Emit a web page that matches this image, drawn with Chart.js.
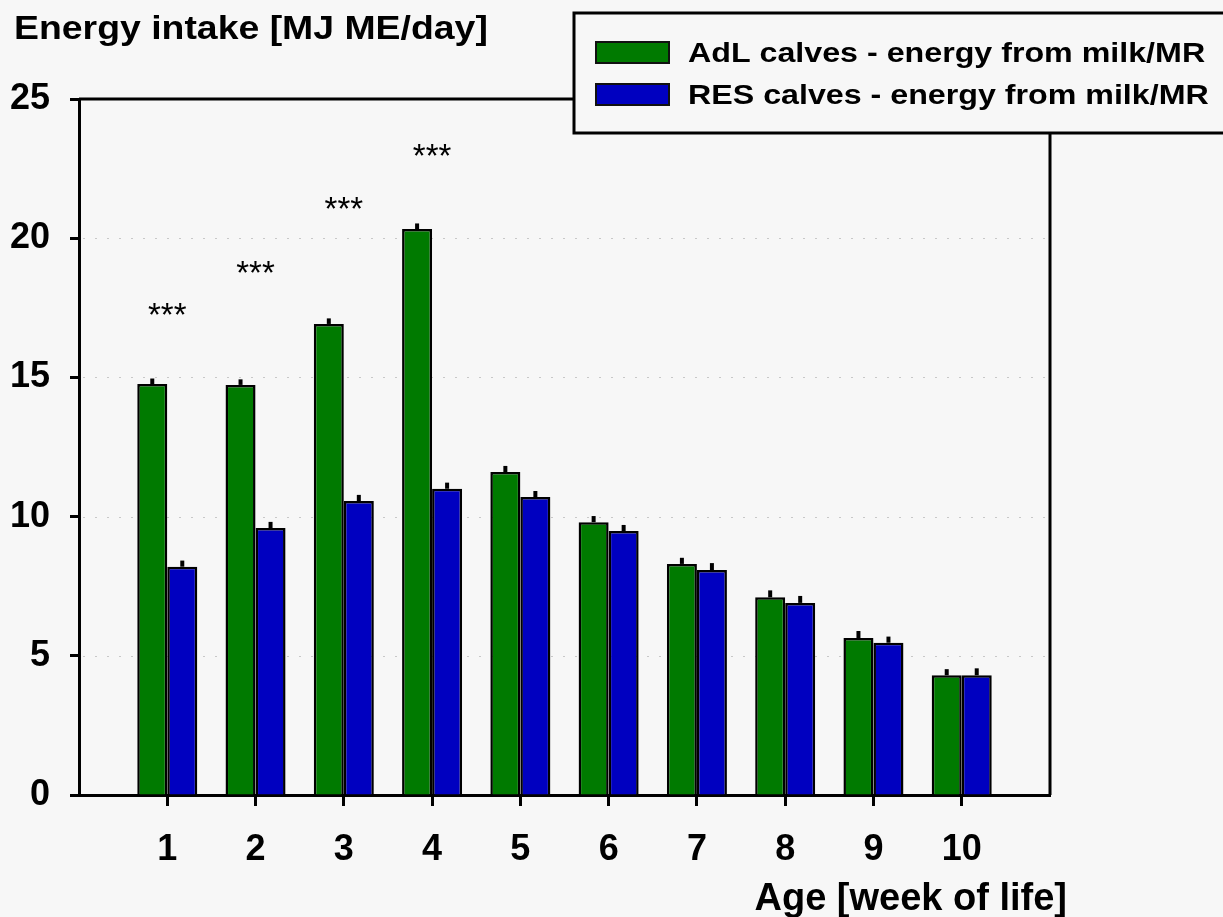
<!DOCTYPE html>
<html>
<head>
<meta charset="utf-8">
<title>Energy intake</title>
<script src="https://cdn.jsdelivr.net/npm/chart.js@4/dist/chart.umd.min.js"></script>
<style>
    html, body { margin: 0; padding: 0; background: #f7f7f7; }
    #wrap { width: 1223px; height: 917px; }
</style>
</head>
<body>
<div id="wrap"><canvas id="energyChart" width="1223" height="917"></canvas></div>
<script>
// Données
const weeks = [1, 2, 3, 4, 5, 6, 7, 8, 9, 10];
const adlValues = [14.76, 14.73, 16.92, 20.33, 11.6, 9.8, 8.3, 7.1, 5.64, 4.3];
const resValues = [8.2, 9.59, 10.56, 11.0, 10.7, 9.48, 8.08, 6.9, 5.47, 4.3];
const adlErrors = [0.2, 0.2, 0.2, 0.2, 0.22, 0.22, 0.22, 0.25, 0.25, 0.22];
const resErrors = [0.22, 0.22, 0.22, 0.22, 0.22, 0.22, 0.25, 0.25, 0.22, 0.25];
const yTicks = [0, 5, 10, 15, 20, 25];
const starWeeks = [1, 2, 3, 4];
const starValues = [17.4, 18.9, 21.2, 23.1];
const seriesLabels = ['AdL calves - energy from milk/MR', 'RES calves - energy from milk/MR'];

const FONT = '"Liberation Sans", Arial, sans-serif';
const BG = '#f7f7f7';

// Lignes pointillées, barres d'erreur, étoiles, cadre, titres et légende
const extrasPlugin = {
    id: 'extras',
    beforeDatasetsDraw(chart) {
        const { ctx, chartArea, scales } = chart;
        ctx.save();
        ctx.strokeStyle = '#c8c8c8';
        ctx.lineWidth = 1;
        ctx.setLineDash([2, 10]);
        yTicks.forEach(v => {
            if (v === 0 || v === 25) return;
            const y = Math.round(scales.y.getPixelForValue(v)) + 0.5;
            ctx.beginPath();
            ctx.moveTo(chartArea.left + 4, y);
            ctx.lineTo(chartArea.right, y);
            ctx.stroke();
        });
        ctx.restore();
    },
    afterDatasetsDraw(chart) {
        const { ctx, chartArea, scales } = chart;
        const errs = [adlErrors, resErrors];
        ctx.save();
        ctx.strokeStyle = '#000';
        ctx.lineWidth = 4;
        chart.data.datasets.forEach((ds, i) => {
            const meta = chart.getDatasetMeta(i);
            meta.data.forEach((bar, j) => {
                const v = ds.data[j].y;
                const y0 = scales.y.getPixelForValue(v);
                const y1 = scales.y.getPixelForValue(v + errs[i][j]);
                ctx.beginPath();
                ctx.moveTo(bar.x, y0);
                ctx.lineTo(bar.x, y1);
                ctx.stroke();
            });
        });

        // étoiles de significativité
        ctx.fillStyle = '#000';
        ctx.font = '33px ' + FONT;
        ctx.textAlign = 'center';
        ctx.textBaseline = 'alphabetic';
        starWeeks.forEach((w, i) => {
            const x = scales.x.getPixelForValue(w);
            const y = scales.y.getPixelForValue(starValues[i]);
            ctx.fillText('***', x, y + 15);
        });

        // cadre haut et droit
        ctx.lineWidth = 3;
        ctx.beginPath();
        ctx.moveTo(chartArea.left, chartArea.top);
        ctx.lineTo(chartArea.right, chartArea.top);
        ctx.lineTo(chartArea.right, chartArea.bottom);
        ctx.stroke();
        ctx.restore();
    },
    afterDraw(chart) {
        const { ctx } = chart;
        ctx.save();
        ctx.fillStyle = '#000';
        ctx.textBaseline = 'alphabetic';

        // titre de l'axe Y (texte un peu étiré comme sur l'original)
        ctx.save();
        ctx.translate(14, 39);
        ctx.scale(1.1, 1);
        ctx.font = 'bold 34px ' + FONT;
        ctx.textAlign = 'left';
        ctx.fillText('Energy intake [MJ ME/day]', 0, 0);
        ctx.restore();

        // titre de l'axe X
        ctx.font = 'bold 38px ' + FONT;
        ctx.textAlign = 'right';
        ctx.fillText('Age [week of life]', 1067, 910);

        // légende
        ctx.fillStyle = BG;
        ctx.fillRect(574, 13, 700, 120);
        ctx.strokeStyle = '#000';
        ctx.lineWidth = 3;
        ctx.strokeRect(574, 13, 700, 120);
        chart.data.datasets.forEach((ds, i) => {
            const top = 42 + i * 42;
            ctx.fillStyle = ds.backgroundColor;
            ctx.fillRect(596, top, 73, 21);
            ctx.lineWidth = 2;
            ctx.strokeStyle = '#111';
            ctx.strokeRect(596, top, 73, 21);
            ctx.save();
            ctx.translate(688, top + 20);
            ctx.scale(1.15, 1);
            ctx.fillStyle = '#000';
            ctx.font = 'bold 28px ' + FONT;
            ctx.textAlign = 'left';
            ctx.fillText(ds.label, 0, 0);
            ctx.restore();
        });
        ctx.restore();
    }
};

const bgPlugin = {
    id: 'bg',
    beforeDraw(chart) {
        const { ctx, width, height } = chart;
        ctx.save();
        ctx.fillStyle = BG;
        ctx.fillRect(0, 0, width, height);
        ctx.restore();
    }
};

new Chart(document.getElementById('energyChart'), {
    type: 'bar',
    data: {
        datasets: [{
            label: seriesLabels[0],
            data: weeks.map((w, i) => ({ x: w, y: adlValues[i] })),
            backgroundColor: '#007a00',
            borderColor: '#000',
            borderWidth: 2.5,
            borderSkipped: 'bottom'
        }, {
            label: seriesLabels[1],
            data: weeks.map((w, i) => ({ x: w, y: resValues[i] })),
            backgroundColor: '#0000c0',
            borderColor: '#000',
            borderWidth: 2.5,
            borderSkipped: 'bottom'
        }]
    },
    options: {
        responsive: false,
        animation: false,
        categoryPercentage: 0.68,
        barPercentage: 1.0,
        layout: { padding: { top: 99, right: 173, left: 0, bottom: 0 } },
        plugins: {
            legend: { display: false },
            tooltip: { enabled: false }
        },
        scales: {
            x: {
                type: 'linear',
                min: 0,
                max: 11,
                offset: false,
                afterFit: s => { s.height = 122; },
                afterBuildTicks: s => { s.ticks = weeks.map(w => ({ value: w })); },
                grid: {
                    offset: false,
                    drawOnChartArea: false,
                    drawTicks: true,
                    tickLength: 11,
                    tickWidth: 3,
                    tickColor: '#000'
                },
                border: { display: true, color: '#000', width: 3 },
                ticks: {
                    color: '#000',
                    padding: 22,
                    font: { family: FONT, size: 36, weight: 'bold' },
                    callback: v => String(v)
                }
            },
            y: {
                min: 0,
                max: 25,
                afterFit: s => { s.width = 79; },
                afterBuildTicks: s => { s.ticks = yTicks.map(v => ({ value: v })); },
                grid: {
                    drawOnChartArea: false,
                    drawTicks: true,
                    tickLength: 9,
                    tickWidth: 3,
                    tickColor: '#000'
                },
                border: { display: true, color: '#000', width: 3 },
                ticks: {
                    color: '#000',
                    padding: 20,
                    font: { family: FONT, size: 36, weight: 'bold' }
                }
            }
        }
    },
    plugins: [bgPlugin, extrasPlugin]
});
</script>
</body>
</html>
